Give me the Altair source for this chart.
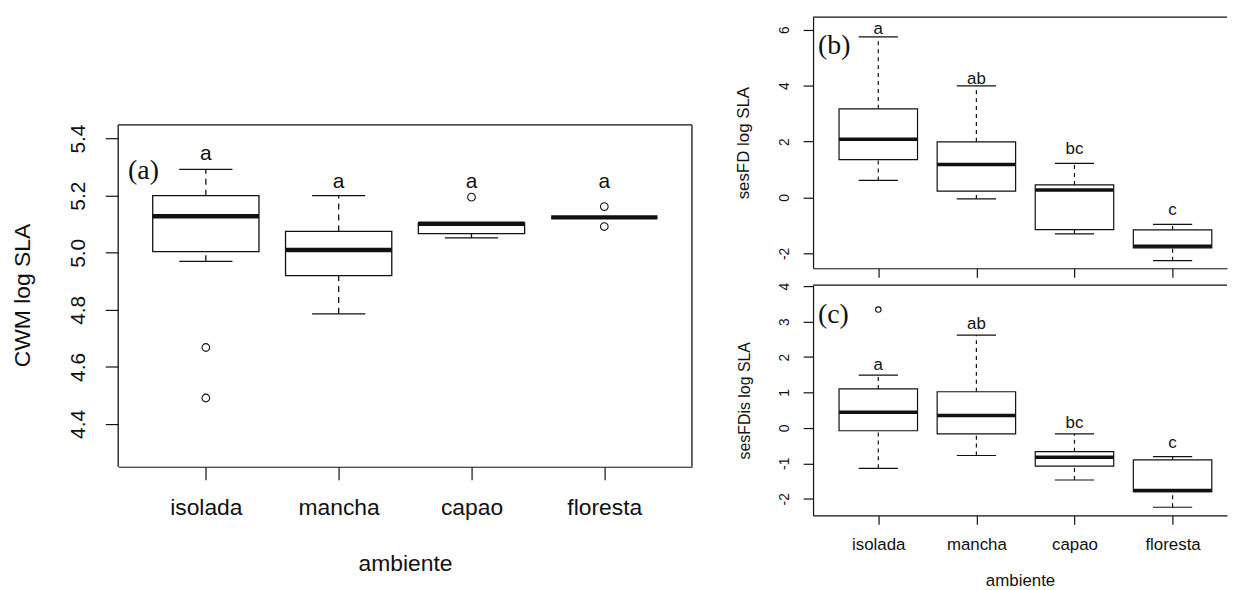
import altair as alt
import pandas as pd

# ---------------- data ----------------
categories = ["isolada", "mancha", "capao", "floresta"]
positions = [1, 2, 3, 4]

# (a) CWM log SLA
a_low = [4.970, 4.786, 5.052, 5.124]
a_q1 = [5.004, 4.920, 5.067, 5.124]
a_med = [5.128, 5.010, 5.102, 5.124]
a_q3 = [5.200, 5.075, 5.105, 5.124]
a_high = [5.292, 5.200, 5.105, 5.124]
a_out_pos = [1, 1, 3, 4, 4]
a_out_val = [4.668, 4.491, 5.195, 5.162, 5.092]
a_letters = ["a", "a", "a", "a"]
a_letter_y = [5.345, 5.248, 5.248, 5.248]

# (b) sesFD log SLA
b_low = [0.61, -0.05, -1.30, -2.26]
b_q1 = [1.35, 0.23, -1.15, -1.80]
b_med = [2.08, 1.18, 0.27, -1.74]
b_q3 = [3.17, 1.99, 0.45, -1.16]
b_high = [5.74, 3.99, 1.22, -0.96]
b_out_pos = []
b_out_val = []
b_letters = ["a", "ab", "bc", "c"]
b_letter_y = [6.04, 4.23, 1.72, -0.46]

# (c) sesFDis log SLA
c_low = [-1.14, -0.78, -1.47, -2.24]
c_q1 = [-0.08, -0.17, -1.08, -1.80]
c_med = [0.44, 0.35, -0.83, -1.77]
c_q3 = [1.10, 1.02, -0.67, -0.90]
c_high = [1.49, 2.62, -0.17, -0.81]
c_out_pos = [1]
c_out_val = [3.34]
c_letters = ["a", "ab", "bc", "c"]
c_letter_y = [1.77, 2.94, 0.14, -0.42]

a_yticks = [4.4, 4.6, 4.8, 5.0, 5.2, 5.4]
b_yticks = [-2, 0, 2, 4, 6]
c_yticks = [-2, -1, 0, 1, 2, 3, 4]

INK = "#111111"
SANS = "Liberation Sans"
SERIF = "Liberation Serif"
cat_expr = "[" + ",".join("'%s'" % c for c in categories) + "][datum.value - 1]"


def panel(low, q1, med, q3, high, out_pos, out_val, letters, letter_y,
          xdom, ydom, yticks, ylab_expr, ytitle, tag, width, height,
          s, show_xlabels, frame_top=None):
    df = pd.DataFrame({"pos": positions, "low": low, "q1": q1, "med": med,
                       "q3": q3, "high": high, "letter": letters, "ly": letter_y})
    df["bl"] = df["pos"] - 0.4
    df["br"] = df["pos"] + 0.4
    df["sl"] = df["pos"] - 0.2
    df["sr"] = df["pos"] + 0.2

    xscale = alt.Scale(domain=xdom, nice=False, zero=False)
    yscale = alt.Scale(domain=ydom, nice=False, zero=False)
    xaxis = alt.Axis(values=positions, labelExpr=cat_expr if show_xlabels else "''",
                     labels=show_xlabels, grid=False, domain=True,
                     domainColor=INK, domainWidth=1.2,
                     tickSize=s["xtick"], tickColor=INK, tickWidth=1.2,
                     labelFont=SANS, labelFontSize=s["xlab"], labelColor=INK,
                     labelPadding=s["xlabpad"], labelBaseline="top",
                     title="ambiente" if show_xlabels else None,
                     titleFont=SANS, titleFontSize=s["xlab"], titleColor=INK,
                     titleFontWeight="normal", titlePadding=s["xtitlepad"])
    ykw = dict(values=yticks, labelExpr=ylab_expr, grid=False,
               domain=frame_top is None, domainColor=INK, domainWidth=1.2,
               tickSize=s["ytick"], tickColor=INK, tickWidth=1.2,
               labelFont=SANS, labelFontSize=s["ylab"], labelColor=INK,
               labelAngle=270, labelAlign="center", labelBaseline="bottom",
               labelPadding=s["ylabpad"], title=ytitle, titleFont=SANS,
               titleFontSize=s["ytitle"], titleColor=INK,
               titleFontWeight="normal", titlePadding=s["ytitlepad"])
    if "titley" in s:
        ykw["titleY"] = s["titley"]
    yaxis = alt.Axis(**ykw)

    def X(f):
        return alt.X(f, type="quantitative", scale=xscale, axis=xaxis)

    def Y(f):
        return alt.Y(f, type="quantitative", scale=yscale, axis=yaxis)

    base = alt.Chart(df)
    lw = s["lw"]
    up = base.mark_rule(color=INK, strokeWidth=lw, strokeDash=s["dash"]).encode(
        x=X("pos"), y=Y("q3"), y2="high:Q")
    lo = base.mark_rule(color=INK, strokeWidth=lw, strokeDash=s["dash"]).encode(
        x=X("pos"), y=Y("low"), y2="q1:Q")
    st_hi = base.mark_rule(color=INK, strokeWidth=lw).encode(
        x=X("sl"), x2="sr:Q", y=Y("high"))
    st_lo = base.mark_rule(color=INK, strokeWidth=lw).encode(
        x=X("sl"), x2="sr:Q", y=Y("low"))
    box = base.mark_rect(fill="white", stroke=INK, strokeWidth=lw).encode(
        x=X("bl"), x2="br:Q", y=Y("q1"), y2="q3:Q")
    medl = base.mark_rule(color=INK, strokeWidth=s["medw"]).encode(
        x=X("bl"), x2="br:Q", y=Y("med"))
    let = base.mark_text(font=SANS, fontSize=s["letter"], color=INK,
                         baseline="middle").encode(x=X("pos"), y=Y("ly"), text="letter:N")
    layers = [up, lo, box, st_hi, st_lo, medl, let]
    if out_pos:
        odf = pd.DataFrame({"pos": out_pos, "val": out_val})
        layers.append(alt.Chart(odf).mark_point(shape="circle", filled=False,
                                                size=s["osize"], color=INK,
                                                strokeWidth=1.1, opacity=1).encode(
            x=X("pos"), y=Y("val")))
    tdf = pd.DataFrame({"t": [tag]})
    layers.append(alt.Chart(tdf).mark_text(font=SERIF, fontSize=28, color=INK,
                                           align="left", baseline="middle").encode(
        x=alt.value(s["tagx"]), y=alt.value(s["tagy"]), text="t:N"))
    fr = alt.Chart(tdf)
    if frame_top is None:
        layers.append(fr.mark_rule(color=INK, strokeWidth=1.2).encode(
            x=alt.value(0), x2=alt.value(width), y=alt.value(0)))
    else:
        layers.append(fr.mark_rule(color=INK, strokeWidth=1.3).encode(
            x=alt.value(0), x2=alt.value(width), y=alt.datum(frame_top)))
        layers.append(fr.mark_rule(color=INK, strokeWidth=1.3).encode(
            x=alt.value(0), y=alt.datum(frame_top), y2=alt.value(height)))
        layers.append(fr.mark_rule(color=INK, strokeWidth=1.3).encode(
            x=alt.value(width), y=alt.datum(frame_top), y2=alt.value(height)))
    return alt.layer(*layers).properties(width=width, height=height)


sa = dict(xtick=13, ytick=13, xlab=23, ylab=21, ytitle=23, xlabpad=17,
          xtitlepad=33, ylabpad=17, ytitlepad=33, lw=1.3, medw=4.5,
          dash=[6, 5], letter=21, osize=60, tagx=10, tagy=155, titley=280)
sb = dict(xtick=9, ytick=10, xlab=17, ylab=14, ytitle=17, xlabpad=12,
          xtitlepad=21, ylabpad=12, ytitlepad=25, lw=1.2, medw=3.5,
          dash=[4, 4], letter=17, osize=30, tagx=5, tagy=29)
sc = dict(sb, ytitle=16, tagy=30)

pa = panel(a_low, a_q1, a_med, a_q3, a_high, a_out_pos, a_out_val, a_letters,
           a_letter_y, [0.34, 4.66], [4.25, 5.826], a_yticks,
           "format(datum.value, '.1f')", "CWM log SLA", "(a)", 578, 453, sa,
           True, frame_top=5.448)
pb = panel(b_low, b_q1, b_med, b_q3, b_high, b_out_pos, b_out_val, b_letters,
           b_letter_y, [0.335, 4.555], [-2.53, 6.45], b_yticks,
           "toString(datum.value)", "sesFD log SLA", "(b)", 417, 253, sb,
           False)
pc = panel(c_low, c_q1, c_med, c_q3, c_high, c_out_pos, c_out_val, c_letters,
           c_letter_y, [0.335, 4.555], [-2.47, 4.03], c_yticks,
           "toString(datum.value)", "sesFDis log SLA", "(c)", 417, 232, sc,
           True)

right = alt.vconcat(pb, pc, spacing=17, bounds="flush")
chart = alt.hconcat(pa, right, spacing=122, bounds="flush").configure_view(
    stroke=None).properties(padding={"left": 3, "top": 6, "right": 0, "bottom": 0},
                            background="white")

chart.save("out.html", embed_options={"renderer": "svg", "actions": False})
